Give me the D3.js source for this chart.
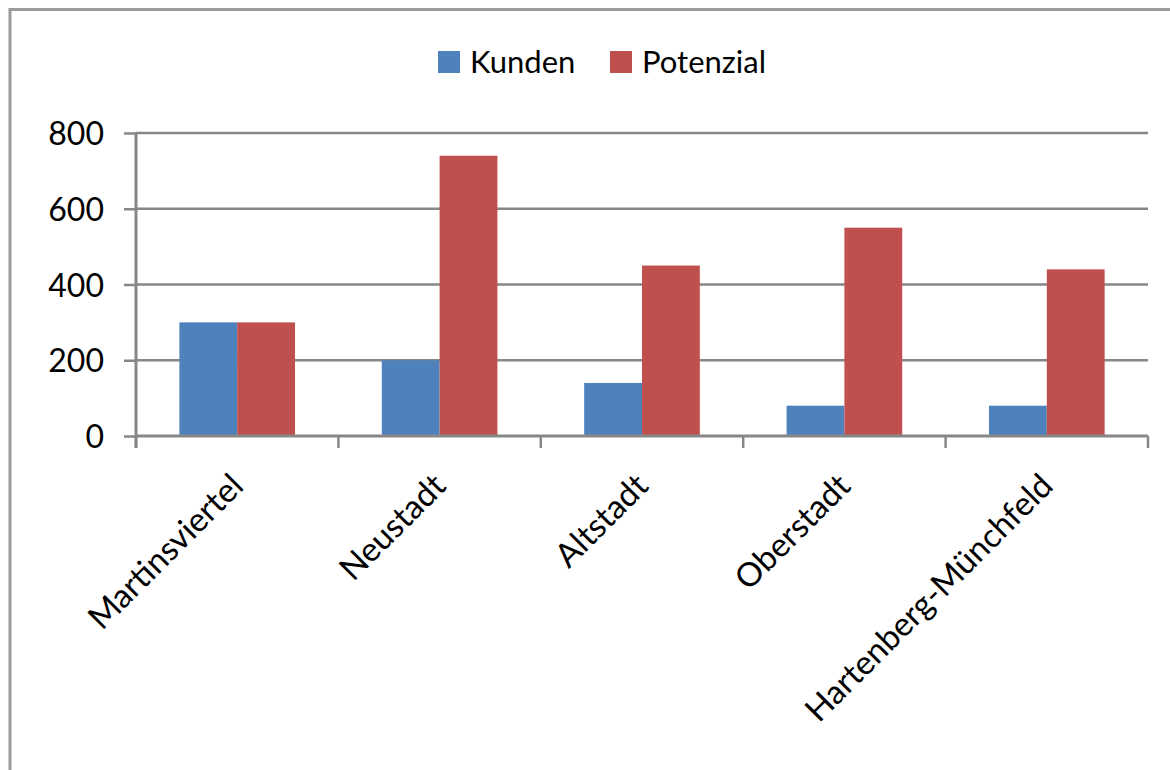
<!DOCTYPE html>
<html>
<head>
<meta charset="utf-8">
<script src="https://cdn.jsdelivr.net/npm/d3@7"></script>
<style>
  html, body { margin: 0; padding: 0; background: #fff; }
  svg { display: block; font-family: Lato, "Open Sans", sans-serif; }
</style>
</head>
<body>
<svg width="1170" height="770"></svg>
<script>
// data
const districts = ["Martinsviertel", "Neustadt", "Altstadt", "Oberstadt", "Hartenberg-Münchfeld"];
const kunden = [300, 200, 140, 80, 80];
const potenzial = [300, 740, 450, 550, 440];
const seriesNames = ["Kunden", "Potenzial"];
const yTicks = [0, 200, 400, 600, 800];

const colors = ["#4F81BD", "#C0504D"];
const gridColor = "#878787";
const fontSize = 31;

const svg = d3.select("svg");

// outer frame of the chart area
svg.append("path")
   .attr("d", "M10,772 L10,9.5 L1172,9.5")
   .attr("fill", "none")
   .attr("stroke", "#9a9a9a")
   .attr("stroke-width", 3);

const margin = {left: 136, right: 1148, top: 133, bottom: 436};

const x = d3.scaleBand()
            .domain(districts)
            .range([margin.left, margin.right]);

const x1 = d3.scaleBand()
             .domain(seriesNames)
             .range([0, x.bandwidth()])
             .paddingOuter(0.75);  // groups take ~57% of each band

const y = d3.scaleLinear()
            .domain([0, 800])
            .range([margin.bottom, margin.top]);

// horizontal gridlines
svg.append("g")
   .selectAll("line")
   .data(yTicks.filter(d => d > 0))
   .enter()
   .append("line")
   .attr("x1", margin.left)
   .attr("x2", margin.right)
   .attr("y1", d => y(d))
   .attr("y2", d => y(d))
   .attr("stroke", gridColor)
   .attr("stroke-width", 2.5);

// bars
const table = districts.map((name, i) => ({name: name, values: [kunden[i], potenzial[i]]}));

svg.append("g")
   .selectAll("g")
   .data(table)
   .enter()
   .append("g")
   .attr("transform", d => `translate(${x(d.name)},0)`)
   .selectAll("rect")
   .data(d => d.values.map((v, j) => ({series: seriesNames[j], value: v, j: j})))
   .enter()
   .append("rect")
   .attr("x", d => x1(d.series))
   .attr("y", d => y(d.value))
   .attr("width", x1.bandwidth())
   .attr("height", d => y(0) - y(d.value))
   .attr("fill", d => colors[d.j]);

// y axis
const yAxis = svg.append("g")
   .attr("transform", `translate(${margin.left},0)`)
   .call(d3.axisLeft(y).tickValues(yTicks).tickSize(12).tickPadding(20).tickSizeOuter(0));

yAxis.select(".domain").attr("stroke", gridColor).attr("stroke-width", 3)
     .attr("d", `M0,${margin.top - 1}V${margin.bottom + 12}`);
yAxis.selectAll(".tick line").attr("stroke", gridColor).attr("stroke-width", 2.5);
yAxis.selectAll("text")
     .attr("font-size", fontSize + 1)
     .attr("font-family", "Lato, 'Open Sans', sans-serif")
     .attr("fill", "#000")
     .attr("dy", "0.36em");

// x axis
const xAxis = svg.append("g")
   .attr("transform", `translate(0,${margin.bottom})`)
   .call(d3.axisBottom(x).tickSize(0).tickSizeOuter(0));

xAxis.select(".domain").attr("stroke", gridColor).attr("stroke-width", 3)
     .attr("d", `M${margin.left},0H${margin.right}`);

// category separators
svg.append("g")
   .selectAll("line")
   .data(districts.concat(["end"]))
   .enter()
   .append("line")
   .attr("x1", (d, i) => margin.left + i * x.bandwidth())
   .attr("x2", (d, i) => margin.left + i * x.bandwidth())
   .attr("y1", margin.bottom)
   .attr("y2", margin.bottom + 12)
   .attr("stroke", gridColor)
   .attr("stroke-width", 2.5);

xAxis.selectAll(".tick text")
     .attr("font-size", fontSize + 2)
     .attr("font-family", "Lato, 'Open Sans', sans-serif")
     .attr("fill", "#000")
     .attr("text-anchor", "end")
     .attr("dy", null)
     .attr("y", 0)
     .attr("transform", "translate(8,52) rotate(-45)");

// legend
const legend = svg.append("g").attr("transform", "translate(438,51)");
const items = legend.selectAll("g")
   .data(seriesNames)
   .enter()
   .append("g")
   .attr("transform", (d, i) => `translate(${i * 172},0)`);

items.append("rect")
     .attr("width", 22)
     .attr("height", 22)
     .attr("fill", (d, i) => colors[i]);

items.append("text")
     .attr("x", 32)
     .attr("y", 11)
     .attr("dy", "0.36em")
     .attr("font-size", fontSize)
     .text(d => d);
</script>
</body>
</html>
